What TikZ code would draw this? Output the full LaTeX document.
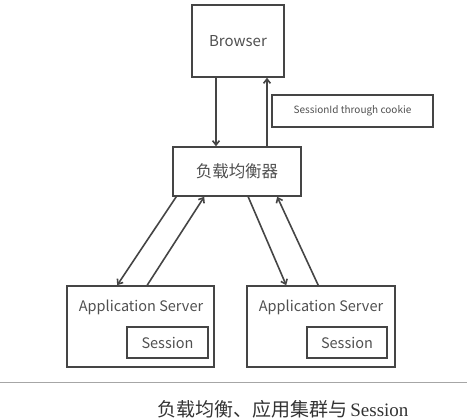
\documentclass[tikz,border=0pt]{standalone}
\usepackage{fontspec}
\setmainfont{Noto Sans CJK SC}
\newfontfamily\capfont{Noto Sans CJK SC}
\newfontfamily\capserif{Liberation Serif}
\usetikzlibrary{arrows.meta}
\tikzset{>={Straight Barb[width=2.4mm,length=1.5mm]}}
\definecolor{boxgray}{HTML}{454545}
\definecolor{txtgray}{HTML}{505050}

\begin{document}
\begin{tikzpicture}[x=1pt, y=-1pt]
      \tikzstyle{bnode} = [draw=boxgray, line width=1.6pt, rectangle, inner sep = 0pt, text=txtgray]
      \tikzstyle{tnode} = [inner sep = 0pt, text=txtgray]
      \tikzstyle{link} = [draw=boxgray, line width=1.6pt, ->]

      \useasboundingbox (0,0) rectangle (467,420);

      %%%%%%%%%%%%%%%%%%%%%%%%%%%%%%
      %% Browser and load balancer
      %%%%%%%%%%%%%%%%%%%%%%%%%%%%%%
      \node[bnode, minimum width=92pt, minimum height=72pt, font=\fontsize{15}{17}\selectfont] (browser) at (238,41) {Browser};
      \node[bnode, line width=1.2pt, minimum width=161pt, minimum height=32pt, font=\fontsize{10}{12}\selectfont] (cookie) at (352.5,111) {SessionId through cookie};
      \node[bnode, minimum width=128pt, minimum height=49pt, font=\fontsize{16.5}{18}\selectfont] (lb) at (237,171.5) {负载均衡器};

      %%%%%%%%%%%%%%%%%%%%%%%%%%%%%%
      %% Application servers
      %%%%%%%%%%%%%%%%%%%%%%%%%%%%%%
      \node[bnode, minimum width=147pt, minimum height=81pt] (as1) at (140.5,326.5) {};
      \node[bnode, minimum width=148pt, minimum height=81pt] (as2) at (321,326.5) {};

      \node[tnode, font=\fontsize{14.5}{16}\selectfont] (ast1) at (141,307) {Application Server};
      \node[tnode, font=\fontsize{14.5}{16}\selectfont] (ast2) at (321,307) {Application Server};

      \node[bnode, minimum width=81pt, minimum height=31pt, font=\fontsize{14.5}{16}\selectfont] (ss1) at (167.5,342.5) {Session};
      \node[bnode, minimum width=80pt, minimum height=31pt, font=\fontsize{14.5}{16}\selectfont] (ss2) at (347,342.5) {Session};

      % browser <-> load balancer
      \draw[link] ([xshift=-22pt]browser.south) -- ([xshift=-21pt]lb.north);
      \draw[link] ([xshift=30pt]lb.north) -- ([xshift=29pt]browser.south);

      % load balancer <-> servers
      \draw[link] ([xshift=4pt]lb.south west) -- ([xshift=51pt]as1.north west);
      \draw[link] ([xshift=81pt]as1.north west) -- ([xshift=32pt]lb.south west);

      \draw[link] ([xshift=76pt]lb.south west) -- ([xshift=40pt]as2.north west);
      \draw[link] ([xshift=72pt]as2.north west) -- ([xshift=105pt]lb.south west);

      %%%%%%%%%%%%%%%%%%%%%%%%%%%%%%
      %% Caption
      %%%%%%%%%%%%%%%%%%%%%%%%%%%%%%
      \draw[gray!70, line width=0.8pt] (0,382) -- (467,382);
      \node[tnode, anchor=west, text=black!80, font=\fontsize{19}{21}\selectfont] (caption) at (157,409) {\capfont 负载均衡、应用集群与\,{\capserif Session}};

    \end{tikzpicture}
\end{document}
